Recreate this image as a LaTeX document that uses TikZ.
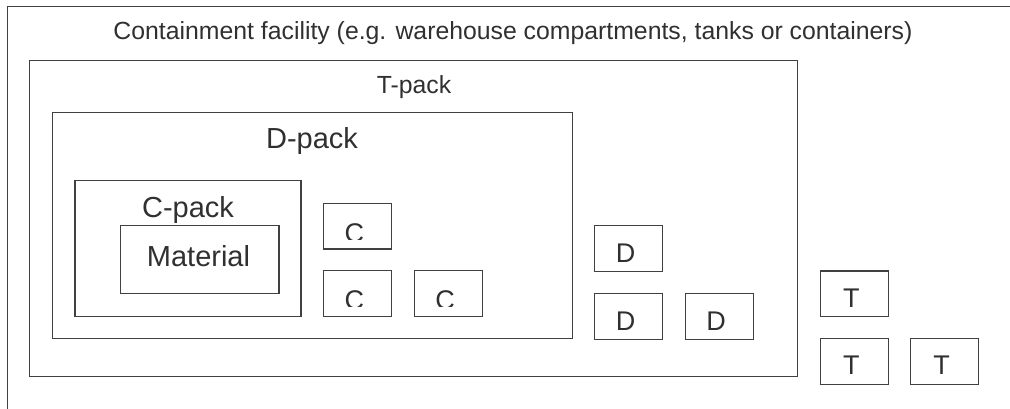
\documentclass[tikz,border=0pt]{standalone}
\usepackage{fontspec}
\setmainfont{Liberation Sans}
\definecolor{ln}{HTML}{404040}
\definecolor{tx}{HTML}{303030}
\tikzset{
  boxline/.style={draw=ln, line width=1.3pt},
  lbl/.style={text=tx, inner sep=0pt, anchor=base},
  big/.style={lbl, font=\fontsize{24.8}{24.8}\selectfont},
  mid/.style={lbl, font=\fontsize{29}{29}\selectfont},
  small/.style={lbl, font=\fontsize{27}{27}\selectfont}
}
\newcommand{\smallbox}[6]{%
  % #1 name, #2 x0, #3 y0, #4 letter, #5 clip height above bottom, #6 baseline above bottom
  \node[boxline, rectangle, minimum width=68pt, minimum height=45.5pt, inner sep=0pt, anchor=north west] (#1) at (#2,#3) {};
  \begin{scope}
    \clip ([xshift=-1pt,yshift=1pt]#1.north west) rectangle ([xshift=1pt,yshift=#5]#1.south east);
    \node[small] (#1t) at ([xshift=-3pt,yshift=#6]#1.south) {#4};
  \end{scope}%
}
\begin{document}
\begin{tikzpicture}[x=1pt,y=-1pt]
\useasboundingbox (0,0) rectangle (1010,408);
\begin{scope}
  \clip (0,0) rectangle (1010,408);
  \node[boxline, rectangle, anchor=north west, minimum width=1100pt, minimum height=500pt, inner sep=0pt] (fac) at (7,6) {};
\end{scope}
\node[big] (factxt) at (513,39) {Containment facility (e.g. warehouse compartments, tanks or containers)};
% T-pack
\node[boxline, rectangle, anchor=north west, minimum width=768pt, minimum height=316pt, inner sep=0pt] (tpack) at (29,60) {};
\node[big] (tpacktxt) at (414,93) {T-pack};
% D-pack
\node[boxline, rectangle, anchor=north west, minimum width=520pt, minimum height=226pt, inner sep=0pt] (dpack) at (52,112) {};
\node[mid] (dpacktxt) at (312,148) {D-pack};
% C-pack
\node[boxline, rectangle, anchor=north west, minimum width=226pt, minimum height=136pt, inner sep=0pt] (cpack) at (74.3,180) {};
\node[mid] (cpacktxt) at (188,217) {C-pack};
% Material
\node[boxline, rectangle, anchor=north west, minimum width=158.6pt, minimum height=68pt, inner sep=0pt] (mat) at (119.7,225) {};
\node[mid] (mattxt) at (198.5,266) {Material};
% C boxes
\smallbox{c1}{322.7}{202.7}{C}{10pt}{7pt}
\smallbox{c2}{322.7}{270}{C}{10pt}{7pt}
\smallbox{c3}{413.5}{270}{C}{10pt}{7pt}
% D boxes
\smallbox{d1}{594}{225}{D}{10pt}{9pt}
\smallbox{d2}{594}{293}{D}{10pt}{9pt}
\smallbox{d3}{684.5}{293}{D}{10pt}{9pt}
% T boxes
\smallbox{t1}{819.7}{270.3}{T}{0pt}{10pt}
\smallbox{t2}{819.7}{338}{T}{0pt}{10pt}
\smallbox{t3}{910}{338}{T}{0pt}{10pt}
\end{tikzpicture}
\end{document}
